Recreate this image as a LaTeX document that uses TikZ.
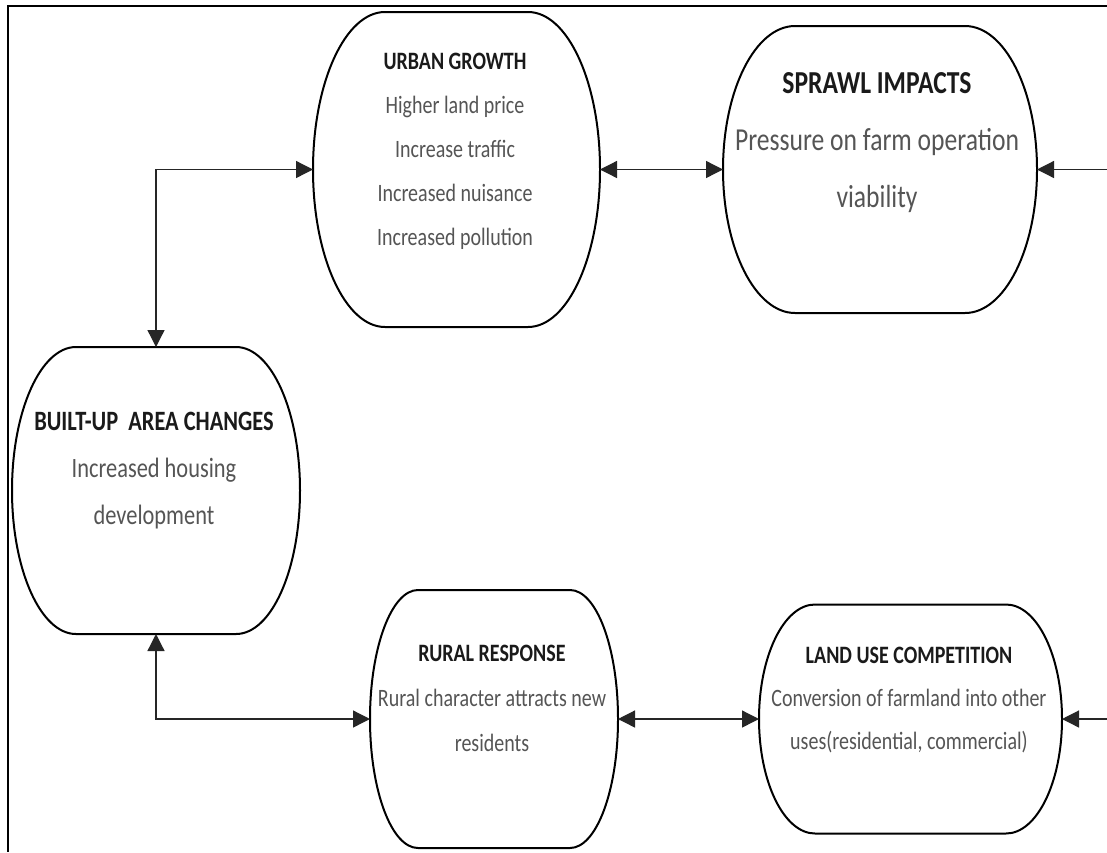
\documentclass[tikz,border=0pt]{standalone}
\usepackage{fontspec}
\setmainfont[FakeStretch=0.8]{Carlito}
\usetikzlibrary{arrows.meta,calc}
\definecolor{bodygray}{HTML}{555555}
\definecolor{titlegray}{HTML}{1A1A1A}
\tikzset{
  holder/.style={draw=none,inner sep=0pt,outer sep=0pt},
  shapeline/.style={draw=black,line width=2pt},
  txt/.style={align=center,inner sep=0pt,text=bodygray,anchor=north},
  conn/.style={draw=black!85,line width=1.3pt},
  >={Triangle[length=17pt,width=17pt]},
  frameline/.style={draw=black,line width=2pt}
}
\newcommand\capsule[3]{%
  \draw[shapeline] ([xshift=#2pt]#1.north west) -- ([xshift=-#2pt]#1.north east)
    arc[start angle=90,end angle=-90,x radius=#2pt,y radius=#3pt]
    -- ([xshift=#2pt]#1.south west)
    arc[start angle=270,end angle=90,x radius=#2pt,y radius=#3pt] -- cycle;}
\newcommand\ttl[1]{\textcolor{titlegray}{\textbf{#1}}}
\begin{document}
\begin{tikzpicture}[x=1pt,y=1pt]
\useasboundingbox (0,0) rectangle (1107,-852);
\fill[white] (0,0) rectangle (1107,-852);
% frame
\draw[frameline] (1107,-6) -- (8,-6) -- (8,-852);
% shape holders
\node[holder,minimum width=287pt,minimum height=315pt] (u) at (456.5,-169.5) {};
\node[holder,minimum width=314pt,minimum height=287pt] (s) at (880,-169.5) {};
\node[holder,minimum width=288pt,minimum height=287pt] (b) at (156,-490.5) {};
\node[holder,minimum width=248pt,minimum height=258pt] (r) at (494,-719) {};
\node[holder,minimum width=303pt,minimum height=229pt] (l) at (910.5,-719) {};
\capsule{u}{72}{157.5}
\capsule{s}{72}{143.5}
\capsule{b}{64}{143.5}
\capsule{r}{48}{129}
\capsule{l}{56}{114.5}
% texts
\node[txt,font=\fontsize{25}{44}\selectfont] (ut) at (455,-53)
  {\ttl{URBAN GROWTH}\\Higher land price\\Increase traffic\\Increased nuisance\\Increased pollution};
\node[txt,font=\fontsize{32}{57}\selectfont] (st) at (877,-72)
  {\ttl{SPRAWL IMPACTS}\\Pressure on farm operation\\viability};
\node[txt,font=\fontsize{28}{47}\selectfont] (bt) at (154,-412)
  {\ttl{BUILT-UP\ \ AREA CHANGES}\\Increased housing\\development};
\node[txt,font=\fontsize{25}{45}\selectfont] (rt) at (492,-645)
  {\ttl{RURAL RESPONSE}\\Rural character attracts new\\residents};
\node[txt,font=\fontsize{25}{43}\selectfont] (lt) at (909,-647)
  {\ttl{LAND USE COMPETITION}\\Conversion of farmland into other\\uses(residential, commercial)};
% free ends
\coordinate (sin) at (1107,-169.5);
\coordinate (lin) at (1107,-719);
% connectors
\draw[conn,<->] (u.east) -- (s.west);
\draw[conn,->] (sin) -- (s.east);
\draw[conn,<->] (b.north) |- (u.west);
\draw[conn,<->] (b.south) |- (r.west);
\draw[conn,<->] (r.east) -- (l.west);
\draw[conn,->] (lin) -- (l.east);
\end{tikzpicture}
\end{document}
